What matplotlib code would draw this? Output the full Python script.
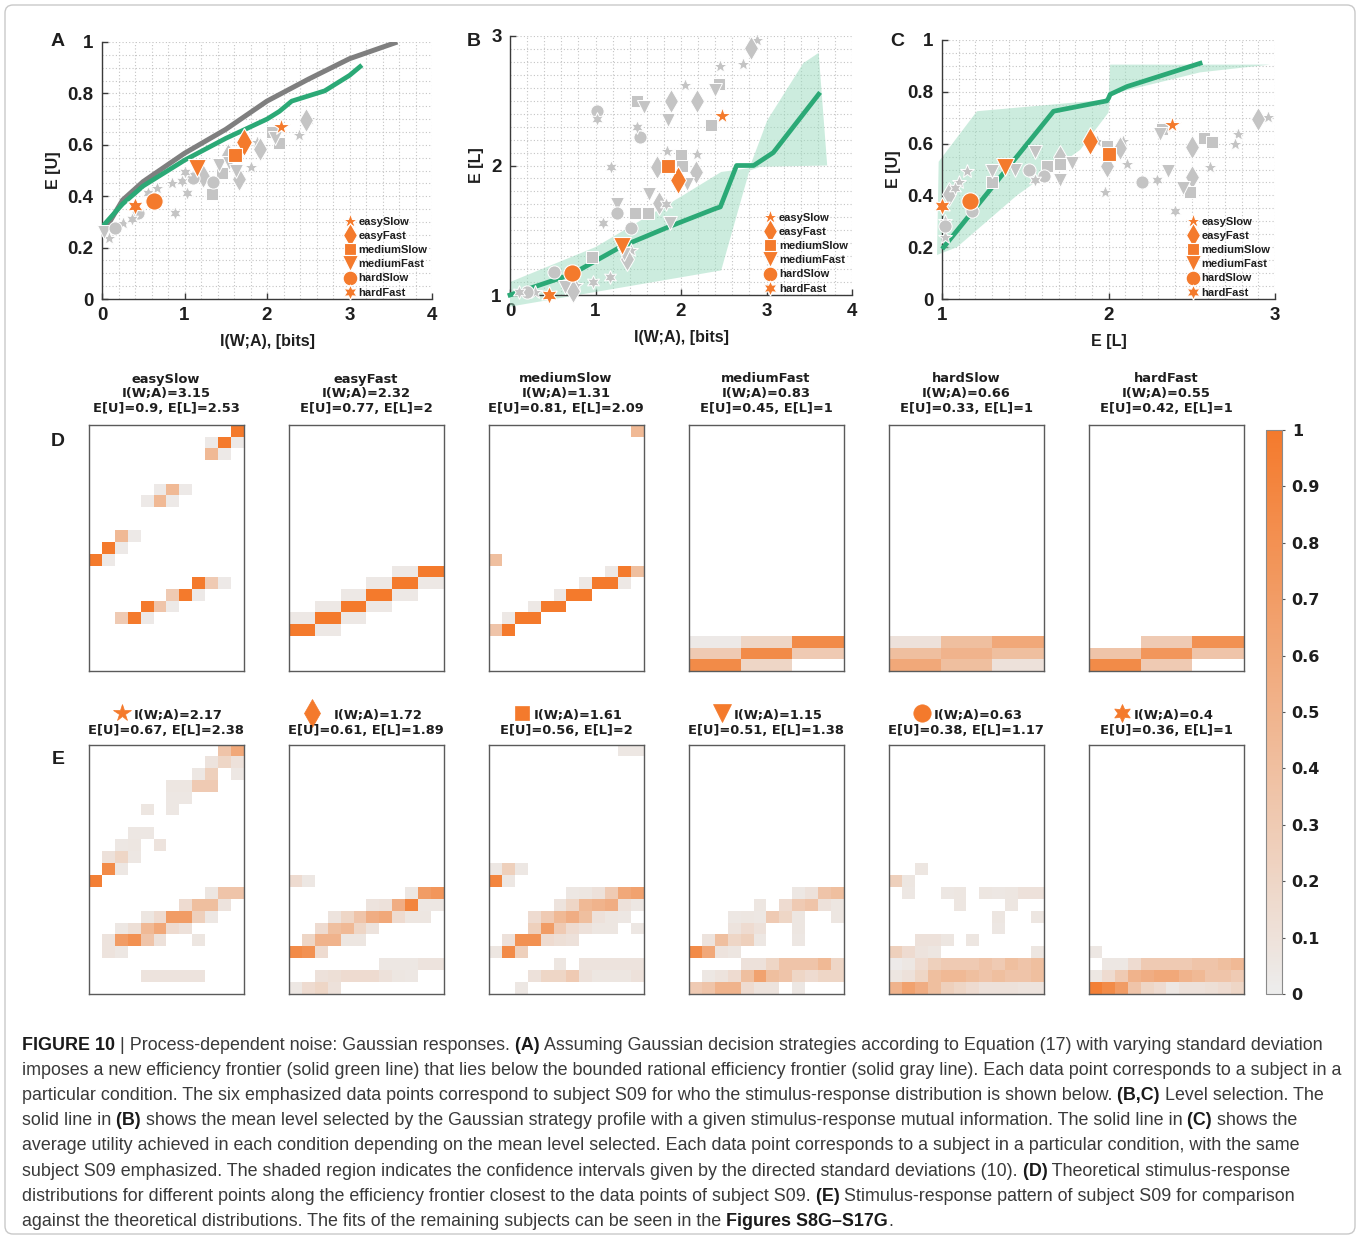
import numpy as np
import matplotlib
matplotlib.use("Agg")
import matplotlib.pyplot as plt
from matplotlib.colors import LinearSegmentedColormap, Normalize
from matplotlib.cm import ScalarMappable
from matplotlib.patches import FancyBboxPatch
from matplotlib.ticker import MultipleLocator, FuncFormatter

plt.rcParams["font.family"] = ["Liberation Sans", "DejaVu Sans"]
plt.rcParams["font.weight"] = "bold"
plt.rcParams["axes.labelweight"] = "bold"

# ---------------- data ----------------
conditions = ["easySlow", "easyFast", "mediumSlow", "mediumFast", "hardSlow", "hardFast"]
kinds = ["es", "ef", "ms", "mf", "hs", "hf"]

# subject S09 (emphasized points, panel E titles)
s09_info = [2.17, 1.72, 1.61, 1.15, 0.63, 0.4]
s09_eu = [0.67, 0.61, 0.56, 0.51, 0.38, 0.36]
s09_el = [2.38, 1.89, 2, 1.38, 1.17, 1]
b_s09_x = [2.48, 1.97, 1.85, 1.31, 0.73, 0.46]

# closest frontier points (panel D titles)
th_info = [3.15, 2.32, 1.31, 0.83, 0.66, 0.55]
th_eu = [0.9, 0.77, 0.81, 0.45, 0.33, 0.42]
th_el = [2.53, 2, 2.09, 1, 1, 1]

# panel A curves
a_gray_x = [0, 0.25, 0.5, 1.0, 1.5, 2.0, 2.5, 3.0, 3.58]
a_gray_y = [0.25, 0.385, 0.457, 0.567, 0.66, 0.77, 0.855, 0.935, 1.0]
a_green_x = [0, 0.25, 0.5, 1.0, 1.5, 2.0, 2.15, 2.3, 2.5, 2.7, 3.0, 3.15]
a_green_y = [0.28, 0.37, 0.44, 0.54, 0.625, 0.70, 0.73, 0.77, 0.79, 0.81, 0.87, 0.91]

# panel B curve and band
b_green_x = [0, 0.72, 1.29, 1.87, 2.40, 2.46, 2.65, 2.85, 3.08, 3.61]
b_green_y = [1.0, 1.16, 1.37, 1.53, 1.667, 1.68, 2.0, 2.0, 2.1, 2.55]
b_up_x = [0, 1.0, 2.0, 2.47, 2.80, 3.01, 3.43, 3.61, 3.71]
b_up_y = [1.10, 1.37, 1.76, 1.95, 1.98, 2.35, 2.79, 2.87, 2.0]
b_lo_x = [0, 2.47, 2.80, 2.93, 3.71]
b_lo_y = [0.91, 1.19, 1.96, 1.99, 2.0]

# panel C curve and band
c_green_x = [1.01, 1.67, 1.99, 2.0, 2.01, 2.11, 2.55]
c_green_y = [0.20, 0.725, 0.765, 0.775, 0.79, 0.82, 0.91]
c_up_x = [0.98, 1.21, 2.0, 2.01, 2.97]
c_up_y = [0.53, 0.725, 0.77, 0.905, 0.905]
c_lo_x = [0.97, 1.09, 1.45, 1.83, 2.0, 2.01, 2.55, 2.97]
c_lo_y = [0.17, 0.20, 0.40, 0.576, 0.72, 0.79, 0.875, 0.905]

# other subjects (gray)
a_gx = [0.09, 0.02, 0.16, 0.25, 0.44, 0.885, 0.67, 0.56, 0.845, 0.966, 1.03, 1.10, 1.34, 1.33,
        1.42, 1.54, 1.53, 1.63, 1.66, 1.80, 1.91, 1.88, 2.06, 2.15, 2.10, 2.39, 2.47, 2.51,
        1.006, 1.22, 0.36, 1.45]
a_gy = [0.236, 0.26, 0.275, 0.295, 0.333, 0.336, 0.43, 0.414, 0.45, 0.46, 0.414, 0.47, 0.456, 0.41,
        0.52, 0.528, 0.56, 0.50, 0.466, 0.512, 0.582, 0.61, 0.651, 0.608, 0.625, 0.638, 0.697, 0.70,
        0.495, 0.48, 0.31, 0.49]
a_gk = ["es", "mf", "hs", "es", "hs", "hf", "es", "hf", "es", "hf", "hf", "hs", "hs", "ms",
        "mf", "mf", "ef", "mf", "ef", "es", "ef", "es", "ms", "ms", "mf", "es", "ef", "es",
        "hf", "ef", "hf", "ms"]

b_gx = [2.89, 2.82, 2.73, 2.46, 2.45, 2.40, 2.05, 1.885, 2.19, 1.48, 1.57, 1.85, 1.015, 1.015,
        2.35, 1.48, 1.52, 1.18, 1.84, 2.0, 2.19, 1.72, 2.01, 2.17, 2.07, 1.63, 1.74, 1.82, 1.25,
        1.25, 1.46, 1.61, 1.09, 1.42, 1.87, 0.96, 1.37, 1.42, 1.33, 0.51, 0.975, 1.17, 0.64, 0.74,
        0.77, 0.195, 0.10, 0.29]
b_gy = [2.97, 2.905, 2.78, 2.77, 2.63, 2.58, 2.62, 2.50, 2.50, 2.495, 2.45, 2.35, 2.42, 2.36,
        2.31, 2.295, 2.22, 1.99, 2.11, 2.08, 2.085, 1.99, 2.0, 1.95, 1.86, 1.78, 1.71, 1.70, 1.705,
        1.63, 1.63, 1.63, 1.556, 1.52, 1.556, 1.29, 1.28, 1.35, 1.32, 1.18, 1.10, 1.14, 1.06, 1.03,
        1.08, 1.025, 1.02, 1.02]
b_gk = ["es", "ef", "es", "es", "ms", "mf", "es", "ef", "ef", "ms", "mf", "mf", "hs", "hf",
        "ms", "hf", "hs", "hf", "es", "ms", "es", "ef", "ms", "ef", "mf", "mf", "ef", "hf", "mf",
        "hs", "ms", "ms", "hf", "hs", "mf", "ms", "ef", "es", "mf", "hs", "hf", "hf", "mf", "ef",
        "es", "hs", "hf", "es"]

c_gx = [2.90, 2.96, 2.78, 2.76, 2.575, 2.62, 2.50, 2.61, 2.36, 2.50, 2.45, 2.49, 2.20, 2.29,
        2.40, 2.31, 2.32, 2.07, 2.09, 1.99, 2.11, 1.98, 1.93, 1.99, 1.71, 1.71, 1.78, 1.71, 1.63,
        1.61, 1.56, 1.56, 1.52, 1.44, 1.30, 1.30, 1.15, 1.10, 1.08, 1.04, 1.18, 1.02, 1.02, 1.02]
c_gy = [0.695, 0.704, 0.636, 0.60, 0.62, 0.608, 0.585, 0.51, 0.495, 0.47, 0.43, 0.413, 0.45, 0.46,
        0.338, 0.636, 0.656, 0.582, 0.61, 0.515, 0.52, 0.415, 0.61, 0.59, 0.55, 0.52, 0.525, 0.46,
        0.515, 0.473, 0.46, 0.567, 0.50, 0.50, 0.495, 0.45, 0.495, 0.45, 0.43, 0.405, 0.338, 0.28,
        0.24, 0.30]
c_gk = ["ef", "es", "es", "es", "ms", "ms", "ef", "es", "mf", "ef", "mf", "ms", "hs", "hf",
        "hf", "mf", "ms", "ef", "es", "ef", "es", "es", "es", "ms", "ef", "ms", "mf", "mf", "ms",
        "hs", "hf", "mf", "hs", "mf", "mf", "ms", "es", "es", "hf", "ef", "hs", "hs", "es", "es"]

# stimulus-response distributions (21 response rows x 12 stimulus columns), row 0 = bottom
d_easy_slow = {
    20: [0, 0, 0, 0, 0, 0, 0, 0, 0, 0, 0, 1.0],
    19: [0, 0, 0, 0, 0, 0, 0, 0, 0, 0.03, 1.0, 0.03],
    18: [0, 0, 0, 0, 0, 0, 0, 0, 0, 0.45, 0.03, 0],
    15: [0, 0, 0, 0, 0, 0.03, 0.45, 0.03, 0, 0, 0, 0],
    14: [0, 0, 0, 0, 0.03, 0.45, 0.03, 0, 0, 0, 0, 0],
    11: [0, 0, 0.45, 0.03, 0, 0, 0, 0, 0, 0, 0, 0],
    10: [0, 1.0, 0.03, 0, 0, 0, 0, 0, 0, 0, 0, 0],
    9: [1.0, 0.03, 0, 0, 0, 0, 0, 0, 0, 0, 0, 0],
    7: [0, 0, 0, 0, 0, 0, 0, 0, 1.0, 0.3, 0.03, 0],
    6: [0, 0, 0, 0, 0, 0, 0.3, 1.0, 0.03, 0, 0, 0],
    5: [0, 0, 0, 0, 1.0, 0.35, 0.03, 0, 0, 0, 0, 0],
    4: [0, 0, 0.3, 1.0, 0.03, 0, 0, 0, 0, 0, 0, 0],
}
d_easy_fast = {
    8: [0, 0, 0, 0, 0, 0, 0, 0, 0.04, 0.04, 1.0, 1.0],
    7: [0, 0, 0, 0, 0, 0, 0.04, 0.04, 1.0, 1.0, 0.04, 0.04],
    6: [0, 0, 0, 0, 0.04, 0.04, 1.0, 1.0, 0.04, 0.04, 0, 0],
    5: [0, 0, 0.04, 0.04, 1.0, 1.0, 0.04, 0.04, 0, 0, 0, 0],
    4: [0.04, 0.04, 1.0, 1.0, 0.04, 0.04, 0, 0, 0, 0, 0, 0],
    3: [1.0, 1.0, 0.04, 0.04, 0, 0, 0, 0, 0, 0, 0, 0],
}
d_medium_slow = {
    20: [0, 0, 0, 0, 0, 0, 0, 0, 0, 0, 0, 0.45],
    9: [0.4, 0, 0, 0, 0, 0, 0, 0, 0, 0, 0, 0],
    8: [0, 0, 0, 0, 0, 0, 0, 0, 0, 0.04, 1.0, 0.4],
    7: [0, 0, 0, 0, 0, 0, 0, 0.04, 1.0, 1.0, 0.04, 0],
    6: [0, 0, 0, 0, 0, 0.04, 1.0, 1.0, 0, 0, 0, 0],
    5: [0, 0, 0, 0.04, 1.0, 1.0, 0, 0, 0, 0, 0, 0],
    4: [0, 0.04, 1.0, 1.0, 0, 0, 0, 0, 0, 0, 0, 0],
    3: [0.35, 1.0, 0, 0, 0, 0, 0, 0, 0, 0, 0, 0],
}
d_medium_fast = {
    2: [0.03] * 4 + [0.2] * 4 + [0.85] * 4,
    1: [0.3] * 4 + [0.85] * 4 + [0.3] * 4,
    0: [0.85] * 4 + [0.2] * 4 + [0] * 4,
}
d_hard_slow = {
    2: [0.1] * 4 + [0.4] * 4 + [0.6] * 4,
    1: [0.4] * 4 + [0.5] * 4 + [0.4] * 4,
    0: [0.6] * 4 + [0.4] * 4 + [0.1] * 4,
}
d_hard_fast = {
    2: [0] * 4 + [0.3] * 4 + [0.8] * 4,
    1: [0.35] * 4 + [0.75] * 4 + [0.35] * 4,
    0: [0.85] * 4 + [0.3] * 4 + [0] * 4,
}

e_easy_slow = {
    20: [0, 0, 0, 0, 0, 0, 0, 0, 0, 0, 0.35, 0.6],
    19: [0, 0, 0, 0, 0, 0, 0, 0, 0, 0.08, 0.2, 0.1],
    18: [0, 0, 0, 0, 0, 0, 0, 0, 0.05, 0.25, 0, 0.05],
    17: [0, 0, 0, 0, 0, 0, 0.06, 0.06, 0.3, 0.3, 0, 0],
    16: [0, 0, 0, 0, 0, 0, 0.05, 0.05, 0, 0, 0, 0],
    15: [0, 0, 0, 0, 0.06, 0, 0.05, 0, 0, 0, 0, 0],
    13: [0, 0, 0, 0.05, 0.05, 0, 0, 0, 0, 0, 0, 0],
    12: [0, 0, 0.05, 0.06, 0, 0.08, 0, 0, 0, 0, 0, 0],
    11: [0, 0.1, 0.2, 0.05, 0, 0, 0, 0, 0, 0, 0, 0],
    10: [0, 0.85, 0.05, 0, 0, 0, 0, 0, 0, 0, 0, 0],
    9: [0.95, 0, 0, 0, 0, 0, 0, 0, 0, 0, 0, 0],
    8: [0, 0, 0, 0, 0, 0, 0, 0, 0, 0.06, 0.35, 0.35],
    7: [0, 0, 0, 0, 0, 0, 0, 0.15, 0.4, 0.4, 0.08, 0],
    6: [0, 0, 0, 0, 0.06, 0.15, 0.7, 0.7, 0.25, 0.05, 0, 0],
    5: [0, 0, 0.05, 0.12, 0.45, 0.6, 0.15, 0.1, 0, 0, 0, 0],
    4: [0, 0.08, 0.7, 0.8, 0.35, 0.1, 0, 0, 0.06, 0, 0, 0],
    3: [0, 0.08, 0.05, 0, 0, 0, 0, 0, 0, 0, 0, 0],
    1: [0, 0, 0, 0, 0.08, 0.08, 0.08, 0.08, 0.08, 0, 0, 0],
}
e_easy_fast = {
    9: [0.15, 0.05, 0, 0, 0, 0, 0, 0, 0, 0, 0, 0],
    8: [0, 0, 0, 0, 0, 0, 0, 0, 0, 0.05, 0.7, 0.75],
    7: [0, 0, 0, 0, 0, 0, 0.08, 0.1, 0.55, 0.9, 0.05, 0.05],
    6: [0, 0, 0, 0.08, 0.2, 0.35, 0.55, 0.6, 0.15, 0.06, 0.06, 0],
    5: [0, 0, 0.15, 0.4, 0.45, 0.2, 0.08, 0, 0, 0, 0, 0],
    4: [0, 0.2, 0.5, 0.5, 0.06, 0.06, 0, 0, 0, 0, 0, 0],
    3: [0.85, 0.8, 0.15, 0, 0, 0, 0, 0, 0, 0, 0, 0],
    2: [0, 0, 0, 0, 0, 0, 0, 0.05, 0.05, 0.05, 0.08, 0.08],
    1: [0, 0, 0.1, 0.12, 0.15, 0.15, 0.15, 0.1, 0.06, 0.05, 0, 0],
    0: [0.05, 0.15, 0.2, 0.1, 0, 0, 0, 0, 0, 0, 0, 0],
}
e_medium_slow = {
    20: [0, 0, 0, 0, 0, 0, 0, 0, 0, 0, 0.05, 0.05],
    10: [0.05, 0.25, 0.05, 0, 0, 0, 0, 0, 0, 0, 0, 0],
    9: [0.9, 0.05, 0, 0, 0, 0, 0, 0, 0, 0, 0, 0],
    8: [0, 0, 0, 0, 0, 0, 0.05, 0.06, 0.1, 0.3, 0.6, 0.65],
    7: [0, 0, 0, 0, 0, 0.08, 0.2, 0.45, 0.5, 0.55, 0.1, 0.05],
    6: [0, 0, 0, 0.15, 0.3, 0.45, 0.55, 0.4, 0.1, 0.06, 0.05, 0],
    5: [0, 0, 0, 0.25, 0.7, 0.3, 0.15, 0.1, 0.06, 0.06, 0, 0.05],
    4: [0, 0.1, 0.8, 0.8, 0.15, 0.12, 0.1, 0, 0, 0, 0, 0],
    3: [0.06, 0.85, 0.25, 0, 0, 0, 0, 0, 0, 0, 0, 0],
    2: [0, 0, 0, 0, 0, 0.06, 0, 0.08, 0.08, 0.08, 0.08, 0.08],
    1: [0, 0, 0, 0.1, 0.2, 0.2, 0.3, 0.1, 0.06, 0.06, 0.06, 0.1],
    0: [0, 0, 0.05, 0, 0, 0, 0, 0, 0, 0, 0, 0],
}
e_medium_fast = {
    8: [0, 0, 0, 0, 0, 0, 0, 0, 0.05, 0.1, 0.35, 0.4],
    7: [0, 0, 0, 0, 0, 0.06, 0, 0.15, 0.3, 0.35, 0.1, 0.06],
    6: [0, 0, 0, 0.05, 0.06, 0.05, 0.3, 0.2, 0.06, 0, 0, 0.06],
    5: [0, 0, 0, 0.08, 0.15, 0.1, 0, 0, 0.06, 0, 0, 0],
    4: [0, 0.08, 0.4, 0.2, 0.25, 0.05, 0, 0, 0.05, 0, 0, 0],
    3: [0.85, 0.6, 0.08, 0.06, 0, 0, 0, 0, 0, 0, 0, 0],
    2: [0, 0, 0, 0, 0.1, 0.1, 0.2, 0.35, 0.35, 0.35, 0.45, 0.2],
    1: [0, 0.05, 0.08, 0.15, 0.4, 0.65, 0.4, 0.35, 0.2, 0.15, 0.2, 0.2],
    0: [0.3, 0.35, 0.5, 0.5, 0.15, 0.08, 0.08, 0, 0.05, 0, 0, 0],
}
e_hard_slow = {
    10: [0, 0, 0.06, 0, 0, 0, 0, 0, 0, 0, 0, 0],
    9: [0.25, 0.06, 0, 0, 0, 0, 0, 0, 0, 0, 0, 0],
    8: [0, 0.05, 0, 0, 0.05, 0.06, 0, 0.06, 0.05, 0.06, 0.1, 0.1],
    7: [0, 0, 0, 0, 0, 0.06, 0, 0, 0, 0.06, 0, 0],
    6: [0, 0, 0, 0, 0, 0, 0, 0, 0.06, 0, 0, 0.06],
    5: [0, 0, 0, 0, 0, 0, 0, 0, 0.05, 0, 0, 0],
    4: [0, 0, 0.1, 0.1, 0.06, 0, 0.06, 0, 0, 0, 0, 0],
    3: [0.25, 0.15, 0.08, 0.06, 0, 0, 0, 0, 0, 0, 0, 0.06],
    2: [0.02, 0.05, 0.15, 0.25, 0.3, 0.3, 0.3, 0.35, 0.3, 0.4, 0.35, 0.4],
    1: [0.06, 0.1, 0.2, 0.4, 0.45, 0.45, 0.4, 0.35, 0.4, 0.35, 0.35, 0.4],
    0: [0.5, 0.65, 0.55, 0.4, 0.25, 0.2, 0.15, 0.1, 0.1, 0.1, 0.08, 0.08],
}
e_hard_fast = {
    3: [0.05, 0, 0, 0, 0, 0, 0, 0, 0, 0, 0, 0],
    2: [0, 0.05, 0.05, 0.15, 0.3, 0.3, 0.3, 0.3, 0.35, 0.35, 0.4, 0.45],
    1: [0.05, 0.15, 0.3, 0.5, 0.55, 0.6, 0.6, 0.5, 0.45, 0.35, 0.35, 0.3],
    0: [0.95, 0.85, 0.7, 0.35, 0.2, 0.15, 0.05, 0.1, 0.1, 0.12, 0.15, 0.2],
}
d_maps = [d_easy_slow, d_easy_fast, d_medium_slow, d_medium_fast, d_hard_slow, d_hard_fast]
e_maps = [e_easy_slow, e_easy_fast, e_medium_slow, e_medium_fast, e_hard_slow, e_hard_fast]

caption_lines = [
    [("FIGURE 10", True), (" | Process-dependent noise: Gaussian responses.", False), (" (A)", True),
     (" Assuming Gaussian decision strategies according to Equation (17) with varying standard deviation", False)],
    [("imposes a new efficiency frontier (solid green line) that lies below the bounded rational efficiency frontier (solid gray line). Each data point corresponds to a subject in a", False)],
    [("particular condition. The six emphasized data points correspond to subject S09 for who the stimulus-response distribution is shown below.", False),
     (" (B,C)", True), (" Level selection. The", False)],
    [("solid line in", False), (" (B)", True),
     (" shows the mean level selected by the Gaussian strategy profile with a given stimulus-response mutual information. The solid line in", False),
     (" (C)", True), (" shows the", False)],
    [("average utility achieved in each condition depending on the mean level selected. Each data point corresponds to a subject in a particular condition, with the same", False)],
    [("subject S09 emphasized. The shaded region indicates the confidence intervals given by the directed standard deviations (10).", False),
     (" (D)", True), (" Theoretical stimulus-response", False)],
    [("distributions for different points along the efficiency frontier closest to the data points of subject S09.", False),
     (" (E)", True), (" Stimulus-response pattern of subject S09 for comparison", False)],
    [("against the theoretical distributions. The fits of the remaining subjects can be seen in the", False),
     (" Figures S8G\u2013S17G", True), (".", False)],
]

# ---------------- style ----------------
W, H = 1360, 1240
ORANGE = "#F47A2C"
GREEN = "#2BA976"
SHADE = "#9ADBBE"
GRAY_PT = "#C4C4C4"
GRAY_LINE = "#7F7F7F"
TXT = "#1E1E1E"
MARKERS = {"es": "*", "ef": "d", "ms": "s", "mf": "v", "hs": "o", "hf": (6, 1, 0)}
GRAY_MS = {"es": 10, "ef": 12, "ms": 8.5, "mf": 10.5, "hs": 9.5, "hf": 10}
ORANGE_MS = {"es": 13, "ef": 14, "ms": 10, "mf": 13, "hs": 12.5, "hf": 13}
cmap = LinearSegmentedColormap.from_list("wo", ["#EDEDED", "#F47A2C"]).with_extremes(bad="white")
fmt = FuncFormatter(lambda v, p: f"{v:g}")


def box(l, t, r, b):
    return [l / W, 1 - b / H, (r - l) / W, (b - t) / H]


fig = plt.figure(figsize=(W / 100, H / 100), dpi=100)
over = fig.add_axes([0, 0, 1, 1])
over.set_xlim(0, W)
over.set_ylim(H, 0)
over.axis("off")
over.add_patch(FancyBboxPatch((5, 5), W - 10, H - 11, boxstyle="round,pad=0,rounding_size=8",
                              fc="none", ec="#C9C9C9", lw=1.0))


def scatter_panel(rect, gx, gy, gk, ox, oy, xlim, ylim, xmaj, xmin, ymaj, ymin, xlabel, ylabel):
    ax = fig.add_axes(rect)
    ax.set_xlim(*xlim)
    ax.set_ylim(*ylim)
    ax.xaxis.set_major_locator(MultipleLocator(xmaj))
    ax.xaxis.set_minor_locator(MultipleLocator(xmin))
    ax.yaxis.set_major_locator(MultipleLocator(ymaj))
    ax.yaxis.set_minor_locator(MultipleLocator(ymin))
    ax.xaxis.set_major_formatter(fmt)
    ax.yaxis.set_major_formatter(fmt)
    ax.grid(which="both", ls=(0, (1, 2)), lw=0.8, color="#C4C4C4")
    ax.set_axisbelow(True)
    for s in ["top", "right"]:
        ax.spines[s].set_visible(False)
    for s in ["left", "bottom"]:
        ax.spines[s].set_color("#3A3A3A")
        ax.spines[s].set_linewidth(1.0)
    ax.tick_params(which="major", direction="in", length=4, width=1, colors="#3A3A3A",
                   labelcolor=TXT, labelsize=13.5, pad=6)
    ax.tick_params(which="minor", length=0)
    ax.set_xlabel(xlabel, fontsize=11.5, color=TXT, labelpad=7)
    ax.set_ylabel(ylabel, fontsize=11.5, color=TXT, labelpad=5)

    gk = np.array(gk)
    gx = np.array(gx)
    gy = np.array(gy)
    for k in kinds:
        sel = gk == k
        ax.plot(gx[sel], gy[sel], ls="none", marker=MARKERS[k], ms=GRAY_MS[k], mfc=GRAY_PT,
                mec="white", mew=0.7, zorder=3, clip_on=False)
    handles = []
    for i, k in enumerate(kinds):
        h, = ax.plot(ox[i], oy[i], ls="none", marker=MARKERS[k], ms=ORANGE_MS[k], mfc=ORANGE,
                     mec="white", mew=0.8, zorder=5, clip_on=False)
        handles.append(h)
    ax.legend(handles, conditions, loc="lower right", bbox_to_anchor=(1.01, -0.025), frameon=False,
              prop=dict(family="Liberation Sans", weight="bold", size=8), handletextpad=0.25,
              labelspacing=0.38, handlelength=1.0, borderpad=0.2, markerscale=0.85,
              labelcolor=TXT)
    return ax


# panel A
axA = scatter_panel(box(102, 42, 432, 299), a_gx, a_gy, a_gk, s09_info, s09_eu,
                    (0, 4), (0, 1), 1, 0.2, 0.2, 0.05, "I(W;A), [bits]", "E [U]")
axA.plot(a_gray_x, a_gray_y, color=GRAY_LINE, lw=3.6, zorder=2.6, solid_capstyle="butt")
axA.plot(a_green_x, a_green_y, color=GREEN, lw=3.4, zorder=2.7, solid_capstyle="butt")

# panel B
axB = scatter_panel(box(510, 36, 852, 295), b_gx, b_gy, b_gk, b_s09_x, s09_el,
                    (0, 4), (1, 3), 1, 0.2, 1, 0.1, "I(W;A), [bits]", "E [L]")
axB.fill(np.r_[b_up_x, b_lo_x[::-1]], np.r_[b_up_y, b_lo_y[::-1]], color=SHADE, alpha=0.5,
         lw=0, zorder=1, clip_on=False)
axB.plot(b_green_x, b_green_y, color=GREEN, lw=3.4, zorder=2.7, clip_on=False)

# panel C
axC = scatter_panel(box(942, 40, 1275, 299), c_gx, c_gy, c_gk, s09_el, s09_eu,
                    (1, 3), (0, 1), 1, 0.1, 0.2, 0.05, "E [L]", "E [U]")
axC.fill(np.r_[c_up_x, c_lo_x[::-1]], np.r_[c_up_y, c_lo_y[::-1]], color=SHADE, alpha=0.5,
         lw=0, zorder=1, clip_on=False)
axC.plot(c_green_x, c_green_y, color=GREEN, lw=3.4, zorder=2.7, clip_on=False)

for lab, x, y in [("A", 58, 42), ("B", 474, 41), ("C", 897, 42), ("D", 58, 441), ("E", 58, 759)]:
    over.text(x, y, lab, fontsize=14, fontweight="bold", color=TXT, ha="center", va="center",
              family="Liberation Sans")

# heatmaps
lefts = [89, 289, 489, 689, 889, 1089]
renderer = fig.canvas.get_renderer()


def heat(rect, rows):
    ax = fig.add_axes(rect)
    m = np.zeros((21, 12))
    for r, vals in rows.items():
        m[r] = vals
    ax.imshow(np.ma.masked_equal(m, 0), cmap=cmap, vmin=0, vmax=1, origin="lower", aspect="auto",
              interpolation="nearest", extent=(0, 12, 0, 21))
    ax.set_xticks([])
    ax.set_yticks([])
    for s in ax.spines.values():
        s.set_color("#5A5A5A")
        s.set_linewidth(1.0)
    return ax


tfont = dict(family="DejaVu Sans", fontweight="bold", fontsize=9.4, color=TXT)
for i, l in enumerate(lefts):
    cx = l + 77
    heat(box(l, 425, l + 155, 671), d_maps[i])
    over.text(cx, 379, conditions[i], ha="center", va="center", **tfont)
    over.text(cx, 394, f"I(W;A)={th_info[i]:g}", ha="center", va="center", **tfont)
    over.text(cx, 409, f"E[U]={th_eu[i]:g}, E[L]={th_el[i]:g}", ha="center", va="center", **tfont)

    heat(box(l, 745, l + 155, 994), e_maps[i])
    over.text(cx - 32, 715, f"I(W;A)={s09_info[i]:g}", ha="left", va="center", **tfont)
    mx = cx - (54 if kinds[i] == "ef" else 44)
    over.plot(mx, 713, ls="none", marker=MARKERS[kinds[i]], ms=ORANGE_MS[kinds[i]] * 1.0,
              mfc=ORANGE, mec=ORANGE, mew=0.5, clip_on=False)
    over.text(cx, 731, f"E[U]={s09_eu[i]:g}, E[L]={s09_el[i]:g}", ha="center", va="center", **tfont)

# colorbar
cax = fig.add_axes(box(1266, 430, 1282, 994))
cb = fig.colorbar(ScalarMappable(norm=Normalize(0, 1), cmap=cmap), cax=cax,
                  ticks=np.round(np.arange(0, 1.01, 0.1), 1))
cb.ax.yaxis.set_major_formatter(fmt)
cb.outline.set_edgecolor("#8A8A8A")
cb.outline.set_linewidth(0.8)
cb.ax.tick_params(length=2, width=0.8, colors="#555555", labelcolor=TXT, pad=5)
for lab in cb.ax.get_yticklabels():
    lab.set_family("DejaVu Sans")
    lab.set_fontweight("bold")
    lab.set_fontsize(11.5)

# caption
CAP_FONT = ["Liberation Sans Narrow", "Liberation Sans", "DejaVu Sans"]
cap_texts = []
first_line = []
for j, parts in enumerate(caption_lines):
    y = 1046 + 25.1 * j + 8
    s, b = parts[0]
    t = over.text(22, y, s, fontsize=12, fontweight="bold" if b else "normal", family=CAP_FONT,
                  color="#1A1A1A" if b else "#3A3A3A", ha="left", va="bottom")
    line = [t]
    for s, b in parts[1:]:
        t = over.annotate(s, xy=(1, 0), xycoords=t, va="bottom", ha="left", fontsize=12,
                          fontweight="bold" if b else "normal", family=CAP_FONT,
                          color="#1A1A1A" if b else "#3A3A3A")
        line.append(t)
    cap_texts += line
    if j == 0:
        first_line = line

w0 = first_line[-1].get_window_extent(renderer).x1 - first_line[0].get_window_extent(renderer).x0
size = 12 * 1298 / w0
for t in cap_texts:
    t.set_fontsize(size)

fig.savefig("out.png", dpi=100, facecolor="white")
